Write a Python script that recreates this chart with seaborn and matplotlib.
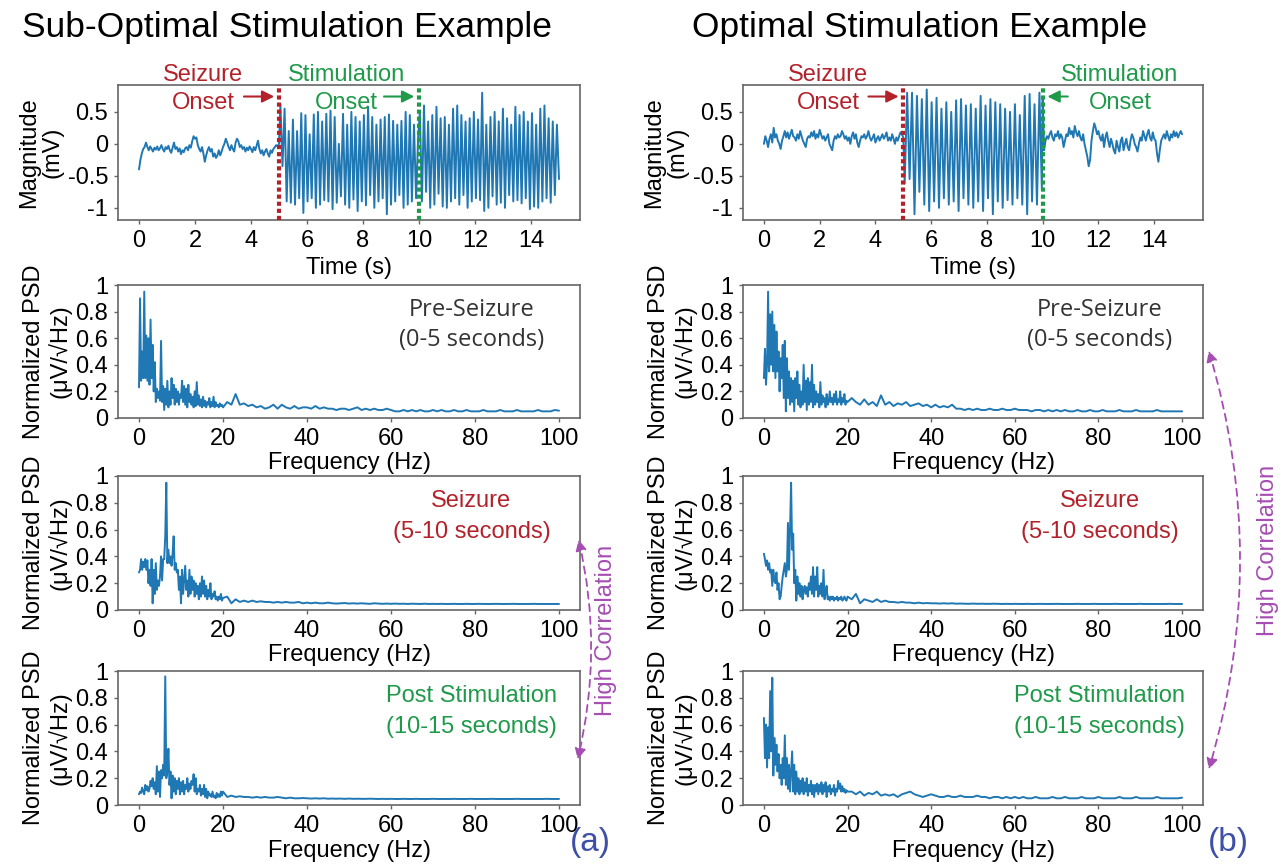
import numpy as np
import pandas as pd
import matplotlib
matplotlib.use("Agg")
import matplotlib.pyplot as plt
from matplotlib.patches import FancyArrowPatch
import seaborn as sns

# ---------------- data ----------------
# time-domain signals, mV
sub_base = [-0.40, -0.25, -0.15, -0.08, -0.05, 0.02, -0.05, -0.10, -0.04, -0.08, -0.12, -0.06, -0.09, -0.04,
            -0.10, -0.07, -0.02, -0.08, -0.12, -0.05, -0.08, -0.03, -0.10, -0.14, -0.06, 0.02, -0.08, -0.05,
            -0.12, -0.07, -0.16, -0.10, -0.13, -0.07, -0.05, -0.10, -0.02, -0.06, 0.04, 0.12, 0.08, 0.10,
            -0.02, -0.08, -0.12, -0.05, -0.15, -0.28, -0.18, -0.10, -0.05, -0.12, -0.08, -0.20, -0.15, -0.22,
            -0.18, -0.10, -0.18, -0.12, -0.05, 0.00, 0.08, 0.02, -0.05, -0.10, -0.02, -0.08, -0.12, 0.02,
            0.08, 0.04, -0.05, -0.02, -0.08, -0.05, -0.12, -0.06, -0.10, -0.04, -0.08, -0.13, -0.05, -0.10,
            -0.03, 0.05, -0.08, -0.15, -0.10, -0.18, -0.12, -0.08, -0.15, -0.20, -0.10, -0.14, -0.08, -0.05,
            -0.02, -0.04, 0.00]
sub_seiz = [0.62, -0.35, 0.55, -0.90, 0.20, -0.92, 0.38, -0.95, 0.20, -0.85, 0.48, -1.08, 0.45, -0.90, 0.15,
            -0.85, 0.46, -1.00, 0.50, -0.95, 0.35, -0.88, 0.47, -0.90, 0.52, -1.02, 0.42, -0.92, 0.00, -0.82,
            0.47, -0.95, 0.30, -1.00, 0.50, -0.87, 0.42, -1.05, 0.35, -0.90, 0.45, -0.96, 0.58, -0.80, 0.42,
            -1.00, 0.30, -0.90, 0.38, -0.85, 0.42, -1.10, 0.46, -0.95, 0.36, -0.90, 0.30, -0.80, 0.36, -1.00,
            0.50, -0.95, 0.45, -0.90, 0.30, -0.85, 0.10]
sub_post = [0.50, -0.90, 0.60, -0.75, 0.35, -1.00, 0.45, -0.95, 0.58, -0.78, 0.40, -0.98, 0.42, -1.00, 0.30,
            -0.90, 0.55, -0.85, 0.60, -0.95, 0.45, -0.80, 0.35, -1.00, 0.40, -0.90, 0.50, -0.85, 0.38, -0.88,
            0.80, -1.05, 0.30, -1.00, 0.42, -0.82, 0.50, -0.95, 0.35, -0.92, 0.55, -1.00, 0.40, -0.80, 0.30,
            -0.90, 0.58, -0.88, 0.45, -0.93, 0.50, -0.85, 0.35, -1.02, 0.48, -0.98, 0.30, -1.00, 0.55, -0.90,
            0.60, -0.85, 0.40, -0.92, 0.35, -0.80, 0.30, -0.55]
opt_base = [0.00, 0.12, 0.05, -0.05, 0.08, 0.15, 0.02, 0.25, 0.10, 0.15, 0.05, 0.00, -0.08, 0.05, 0.12, 0.20,
            0.10, 0.18, 0.08, 0.15, 0.22, 0.12, 0.10, 0.05, 0.15, 0.08, 0.20, 0.12, 0.05, 0.00, -0.05, 0.08,
            0.12, 0.10, 0.18, 0.12, 0.20, 0.08, 0.15, 0.10, 0.22, 0.15, 0.08, 0.12, 0.05, 0.10, 0.15, 0.00,
            -0.05, -0.10, 0.05, 0.12, 0.08, 0.15, 0.10, 0.12, 0.20, 0.15, 0.08, 0.12, 0.05, 0.10, 0.00, 0.12,
            0.18, 0.08, 0.15, 0.02, -0.05, 0.05, 0.12, 0.10, 0.15, 0.08, 0.12, 0.20, 0.10, 0.05, 0.10, 0.15,
            0.02, 0.08, 0.12, 0.05, 0.10, 0.15, 0.08, 0.12, 0.18, 0.05, 0.10, 0.05, 0.15, 0.08, 0.00, 0.10,
            0.05, 0.12, 0.18, 0.15, 0.10]
opt_seiz = [-0.62, 0.80, -0.55, 0.80, -1.10, 0.75, -0.75, 0.70, -0.95, 0.85, -1.05, 0.65, -0.90, 0.72, -1.00,
            0.55, -0.85, 0.65, -0.95, 0.50, -0.90, 0.68, -1.05, 0.70, -0.85, 0.60, -0.95, 0.62, -1.00, 0.55,
            -0.90, 0.75, -1.05, 0.60, -0.85, 0.70, -1.10, 0.65, -0.90, 0.62, -1.00, 0.55, -0.88, 0.50, -0.95,
            0.62, -0.85, 0.45, -0.95, 0.75, -1.10, 0.78, -0.90, 0.62, -0.95, 0.80, -0.70]
opt_post = [0.70, -0.10, 0.05, 0.12, 0.08, 0.15, 0.20, 0.10, 0.05, 0.15, 0.12, 0.20, 0.08, 0.15, 0.10, -0.05,
            0.05, 0.15, 0.12, 0.25, 0.15, 0.20, 0.10, 0.28, 0.18, 0.12, 0.20, 0.10, 0.05, 0.15, 0.00, -0.10,
            -0.20, -0.35, -0.25, 0.05, 0.20, 0.32, 0.25, 0.15, 0.20, 0.10, 0.05, 0.15, -0.05, 0.10, 0.18, 0.05,
            -0.05, 0.08, 0.00, -0.10, -0.15, 0.05, -0.05, -0.12, 0.05, 0.10, -0.10, 0.00, 0.08, -0.05, -0.10,
            0.05, 0.15, 0.10, 0.00, -0.05, -0.12, 0.00, 0.10, 0.05, 0.20, 0.12, 0.05, 0.15, 0.22, 0.10, 0.05,
            0.18, 0.08, 0.05, -0.15, -0.28, -0.10, 0.05, 0.10, 0.15, 0.08, 0.20, 0.12, 0.05, 0.15, 0.10, 0.20,
            0.12, 0.18, 0.10, 0.15, 0.20, 0.15]

# normalized PSD: "low" = 0-20 Hz, "tail" = 21-100 Hz
sub_pre_low = [0.23, 0.90, 0.28, 0.50, 0.30, 0.95, 0.30, 0.62, 0.28, 0.60, 0.25, 0.74, 0.30, 0.55, 0.20, 0.42,
               0.12, 0.22, 0.15, 0.20, 0.13, 0.58, 0.12, 0.24, 0.06, 0.22, 0.10, 0.28, 0.08, 0.20, 0.10, 0.30,
               0.15, 0.25, 0.10, 0.22, 0.12, 0.20, 0.10, 0.18, 0.15, 0.28, 0.12, 0.24, 0.10, 0.22, 0.08, 0.25,
               0.12, 0.18, 0.10, 0.16, 0.08, 0.20, 0.09, 0.27, 0.10, 0.17, 0.09, 0.14, 0.08, 0.16, 0.09, 0.13,
               0.08, 0.12, 0.10, 0.15, 0.08, 0.12, 0.09, 0.16, 0.08, 0.12, 0.09, 0.10, 0.08, 0.11, 0.09, 0.10, 0.08]
sub_pre_tail = [0.12, 0.10, 0.18, 0.10, 0.11, 0.09, 0.10, 0.08, 0.09, 0.07, 0.08, 0.10, 0.07, 0.10, 0.08, 0.07,
                0.09, 0.07, 0.08, 0.08, 0.07, 0.09, 0.07, 0.08, 0.07, 0.07, 0.06, 0.07, 0.07, 0.06, 0.07, 0.08,
                0.06, 0.07, 0.06, 0.07, 0.06, 0.06, 0.07, 0.06, 0.05, 0.05, 0.06, 0.05, 0.06, 0.05, 0.06, 0.05,
                0.05, 0.06, 0.05, 0.06, 0.05, 0.05, 0.06, 0.05, 0.05, 0.06, 0.05, 0.05, 0.05, 0.06, 0.05, 0.05,
                0.05, 0.06, 0.05, 0.05, 0.05, 0.06, 0.05, 0.05, 0.05, 0.05, 0.06, 0.05, 0.05, 0.05, 0.06, 0.055]
sub_seiz_low = [0.28, 0.30, 0.38, 0.30, 0.36, 0.32, 0.38, 0.30, 0.37, 0.20, 0.30, 0.18, 0.38, 0.05, 0.30, 0.12,
                0.35, 0.15, 0.22, 0.18, 0.25, 0.40, 0.22, 0.38, 0.38, 0.55, 0.95, 0.35, 0.45, 0.35, 0.40, 0.33,
                0.42, 0.55, 0.30, 0.35, 0.28, 0.30, 0.15, 0.25, 0.05, 0.30, 0.12, 0.22, 0.33, 0.15, 0.22, 0.10,
                0.30, 0.12, 0.25, 0.15, 0.22, 0.10, 0.20, 0.12, 0.18, 0.08, 0.20, 0.10, 0.25, 0.12, 0.22, 0.10,
                0.18, 0.08, 0.15, 0.10, 0.20, 0.08, 0.12, 0.10, 0.14, 0.08, 0.10, 0.07, 0.10, 0.08, 0.12, 0.07, 0.09]
sub_seiz_tail = [0.10, 0.05, 0.08, 0.06, 0.07, 0.06, 0.07, 0.06, 0.065, 0.06, 0.06, 0.055, 0.06, 0.055, 0.06,
                 0.055, 0.055, 0.06, 0.05, 0.055, 0.05, 0.055, 0.05, 0.05, 0.055, 0.05, 0.048, 0.05, 0.052, 0.048,
                 0.05, 0.048, 0.05, 0.048, 0.046, 0.05, 0.048, 0.046, 0.048, 0.046, 0.048, 0.046, 0.047, 0.045,
                 0.047, 0.046, 0.045, 0.047, 0.045, 0.046, 0.045, 0.046, 0.045, 0.045, 0.046, 0.045, 0.045, 0.046,
                 0.045, 0.045, 0.046, 0.045, 0.045, 0.045, 0.046, 0.045, 0.045, 0.045, 0.046, 0.045, 0.045, 0.045,
                 0.045, 0.046, 0.045, 0.045, 0.045, 0.045, 0.045, 0.045]
sub_post_low = [0.08, 0.10, 0.09, 0.13, 0.10, 0.08, 0.15, 0.11, 0.14, 0.10, 0.12, 0.18, 0.14, 0.20, 0.12, 0.17,
                0.08, 0.29, 0.10, 0.25, 0.06, 0.26, 0.20, 0.30, 0.22, 0.96, 0.20, 0.25, 0.42, 0.15, 0.25, 0.05,
                0.22, 0.10, 0.20, 0.08, 0.18, 0.12, 0.20, 0.08, 0.17, 0.10, 0.18, 0.08, 0.15, 0.12, 0.20, 0.10,
                0.16, 0.12, 0.18, 0.15, 0.23, 0.10, 0.20, 0.08, 0.12, 0.10, 0.15, 0.07, 0.12, 0.08, 0.15, 0.06,
                0.12, 0.05, 0.10, 0.07, 0.08, 0.06, 0.10, 0.06, 0.07, 0.05, 0.09, 0.06, 0.08, 0.06, 0.10, 0.07, 0.10]
sub_post_tail = [0.06, 0.07, 0.06, 0.065, 0.06, 0.06, 0.055, 0.06, 0.055, 0.06, 0.055, 0.055, 0.06, 0.055, 0.05,
                 0.055, 0.05, 0.05, 0.052, 0.05, 0.048, 0.05, 0.048, 0.05, 0.047, 0.048, 0.047, 0.048, 0.046, 0.048,
                 0.046, 0.047, 0.046, 0.046, 0.047, 0.046, 0.045, 0.046, 0.045, 0.046, 0.045, 0.045, 0.046, 0.045,
                 0.045, 0.046, 0.045, 0.045, 0.045, 0.046, 0.045, 0.045, 0.045, 0.045, 0.046, 0.045, 0.045, 0.045,
                 0.046, 0.045, 0.045, 0.045, 0.045, 0.046, 0.045, 0.045, 0.045, 0.045, 0.045, 0.046, 0.045, 0.045,
                 0.045, 0.045, 0.045, 0.045, 0.046, 0.045, 0.045, 0.045]
opt_pre_low = [0.30, 0.52, 0.25, 0.40, 0.95, 0.35, 0.78, 0.40, 0.80, 0.35, 0.70, 0.30, 0.65, 0.35, 0.50, 0.20,
               0.45, 0.30, 0.55, 0.15, 0.58, 0.05, 0.45, 0.15, 0.35, 0.10, 0.30, 0.12, 0.28, 0.05, 0.30, 0.15,
               0.35, 0.10, 0.25, 0.08, 0.20, 0.10, 0.40, 0.12, 0.28, 0.06, 0.30, 0.10, 0.27, 0.12, 0.40, 0.08,
               0.25, 0.10, 0.20, 0.12, 0.18, 0.08, 0.27, 0.10, 0.17, 0.12, 0.15, 0.08, 0.18, 0.10, 0.12, 0.20,
               0.12, 0.15, 0.10, 0.18, 0.12, 0.20, 0.10, 0.14, 0.12, 0.20, 0.10, 0.15, 0.12, 0.18, 0.10, 0.13, 0.12]
opt_pre_tail = [0.15, 0.12, 0.10, 0.14, 0.10, 0.12, 0.09, 0.17, 0.10, 0.12, 0.09, 0.11, 0.10, 0.12, 0.09, 0.10,
                0.11, 0.09, 0.10, 0.08, 0.10, 0.08, 0.09, 0.08, 0.10, 0.07, 0.07, 0.06, 0.07, 0.06, 0.07, 0.06,
                0.06, 0.07, 0.06, 0.06, 0.07, 0.06, 0.06, 0.07, 0.06, 0.06, 0.06, 0.05, 0.06, 0.06, 0.05, 0.06,
                0.05, 0.06, 0.05, 0.06, 0.05, 0.05, 0.06, 0.05, 0.05, 0.06, 0.05, 0.05, 0.06, 0.05, 0.05, 0.05,
                0.06, 0.05, 0.05, 0.05, 0.06, 0.05, 0.05, 0.05, 0.05, 0.06, 0.05, 0.05, 0.05, 0.05, 0.05, 0.05]
opt_seiz_low = [0.42, 0.38, 0.33, 0.37, 0.30, 0.35, 0.28, 0.30, 0.18, 0.30, 0.22, 0.20, 0.28, 0.15, 0.20, 0.08,
                0.10, 0.18, 0.25, 0.30, 0.35, 0.25, 0.30, 0.65, 0.30, 0.60, 0.95, 0.45, 0.57, 0.20, 0.30, 0.07,
                0.25, 0.12, 0.20, 0.10, 0.18, 0.08, 0.15, 0.18, 0.12, 0.17, 0.10, 0.20, 0.15, 0.25, 0.12, 0.32,
                0.10, 0.25, 0.15, 0.32, 0.10, 0.18, 0.12, 0.20, 0.10, 0.30, 0.08, 0.12, 0.18, 0.08, 0.10, 0.07,
                0.10, 0.08, 0.10, 0.07, 0.09, 0.08, 0.10, 0.07, 0.09, 0.08, 0.10, 0.07, 0.08, 0.10, 0.08, 0.07, 0.10]
opt_seiz_tail = [0.08, 0.12, 0.05, 0.08, 0.07, 0.06, 0.08, 0.06, 0.07, 0.06, 0.06, 0.055, 0.06, 0.055, 0.055,
                 0.05, 0.055, 0.05, 0.052, 0.05, 0.05, 0.048, 0.05, 0.048, 0.05, 0.047, 0.048, 0.047, 0.046, 0.048,
                 0.046, 0.047, 0.046, 0.046, 0.047, 0.046, 0.045, 0.046, 0.045, 0.046, 0.045, 0.045, 0.046, 0.045,
                 0.045, 0.046, 0.045, 0.045, 0.045, 0.046, 0.045, 0.045, 0.045, 0.045, 0.046, 0.045, 0.045, 0.045,
                 0.046, 0.045, 0.045, 0.045, 0.045, 0.046, 0.045, 0.045, 0.045, 0.045, 0.045, 0.046, 0.045, 0.045,
                 0.045, 0.045, 0.045, 0.045, 0.046, 0.045, 0.045, 0.045]
opt_post_low = [0.65, 0.35, 0.60, 0.28, 0.58, 0.35, 0.85, 0.40, 0.95, 0.22, 0.50, 0.30, 0.45, 0.25, 0.38, 0.20,
                0.30, 0.15, 0.35, 0.20, 0.52, 0.15, 0.35, 0.12, 0.30, 0.10, 0.25, 0.40, 0.10, 0.30, 0.08, 0.25,
                0.10, 0.20, 0.08, 0.18, 0.10, 0.20, 0.08, 0.17, 0.10, 0.20, 0.07, 0.15, 0.10, 0.18, 0.08, 0.15,
                0.06, 0.15, 0.10, 0.16, 0.08, 0.15, 0.10, 0.17, 0.08, 0.15, 0.10, 0.17, 0.06, 0.14, 0.10, 0.15,
                0.08, 0.12, 0.10, 0.15, 0.07, 0.12, 0.10, 0.18, 0.12, 0.16, 0.10, 0.14, 0.10, 0.12, 0.09, 0.11, 0.10]
opt_post_tail = [0.10, 0.08, 0.10, 0.07, 0.09, 0.08, 0.10, 0.07, 0.08, 0.07, 0.08, 0.06, 0.08, 0.09, 0.10, 0.08,
                 0.07, 0.06, 0.07, 0.08, 0.07, 0.06, 0.06, 0.07, 0.06, 0.06, 0.07, 0.06, 0.06, 0.06, 0.07, 0.06,
                 0.06, 0.05, 0.06, 0.06, 0.05, 0.06, 0.05, 0.06, 0.05, 0.06, 0.05, 0.05, 0.06, 0.05, 0.05, 0.05,
                 0.06, 0.05, 0.05, 0.06, 0.05, 0.05, 0.05, 0.06, 0.05, 0.05, 0.05, 0.06, 0.05, 0.05, 0.05, 0.05,
                 0.06, 0.05, 0.05, 0.05, 0.06, 0.05, 0.05, 0.05, 0.05, 0.06, 0.05, 0.05, 0.05, 0.05, 0.05, 0.055]

time_ticks = [0, 2, 4, 6, 8, 10, 12, 14]
mag_ticks = [-1, -0.5, 0, 0.5]
freq_ticks = [0, 20, 40, 60, 80, 100]
psd_ticks = [0, 0.2, 0.4, 0.6, 0.8, 1]
titles = ["Sub-Optimal Stimulation Example", "Optimal Stimulation Example"]
psd_labels = [("Pre-Seizure", "(0-5 seconds)"), ("Seizure", "(5-10 seconds)"),
              ("Post Stimulation", "(10-15 seconds)")]

# ---------------- style ----------------
sns.set_theme(style="ticks")
plt.rcParams["font.family"] = ["Liberation Sans", "DejaVu Sans"]
plt.rcParams["axes.linewidth"] = 1.2
plt.rcParams["text.color"] = "black"
plt.rcParams["axes.labelcolor"] = "black"
plt.rcParams["xtick.labelcolor"] = "black"
plt.rcParams["ytick.labelcolor"] = "black"

BLUE = "#1f77b4"
RED = "#b3222b"
GREEN = "#1f9a4a"
PURPLE = "#a64db3"
LBLUE = "#3d4fa6"
FS = 17

W, H = 1288, 865
fig = plt.figure(figsize=(W / 100, H / 100), dpi=100)


def fx(px):
    return px / W


def fy(py):
    return 1 - py / H


col_x = [(118, 580), (743, 1203)]
row_y = [(85, 220), (285, 418), (476, 610), (671, 805)]


def make_ax(c, r):
    x0, x1 = col_x[c]
    y0, y1 = row_y[r]
    ax = fig.add_axes([fx(x0), fy(y1), fx(x1 - x0), (y1 - y0) / H])
    for s in ax.spines.values():
        s.set_color("#666666")
        s.set_linewidth(1.2)
    ax.tick_params(labelsize=FS, length=3, width=1, color="#666666", labelcolor="black", pad=4)
    return ax


def fmt(v):
    return "%g" % v


def time_df(base, seiz, post, seiz_span, post_span):
    t = np.concatenate([np.linspace(0, 5, len(base)),
                        np.linspace(seiz_span[0], seiz_span[1], len(seiz)),
                        np.linspace(post_span[0], post_span[1], len(post))])
    v = np.concatenate([base, seiz, post])
    return pd.DataFrame({"t": t, "v": v})


def psd_df(low, tail):
    f = np.concatenate([np.linspace(0, 20, len(low)), np.linspace(21, 100, len(tail))])
    return pd.DataFrame({"f": f, "p": np.concatenate([low, tail])})


signals = [time_df(sub_base, sub_seiz, sub_post, (5.05, 9.97), (10.03, 15.0)),
           time_df(opt_base, opt_seiz, opt_post, (5.05, 9.97), (10.0, 15.0))]
psds = [[psd_df(sub_pre_low, sub_pre_tail), psd_df(sub_seiz_low, sub_seiz_tail), psd_df(sub_post_low, sub_post_tail)],
        [psd_df(opt_pre_low, opt_pre_tail), psd_df(opt_seiz_low, opt_seiz_tail), psd_df(opt_post_low, opt_post_tail)]]

label_colors = ["#333333", RED, GREEN]
label_fonts = [["Open Sans", "DejaVu Sans"], ["Liberation Sans", "DejaVu Sans"], ["Liberation Sans", "DejaVu Sans"]]

for c in range(2):
    # ---- time domain ----
    ax = make_ax(c, 0)
    sns.lineplot(data=signals[c], x="t", y="v", ax=ax, color=BLUE, lw=1.4,
                 estimator=None, sort=False)
    ax.set_xlim(-0.75, 15.75)
    ax.set_ylim(-1.19, 0.92)
    ax.set_xticks(time_ticks)
    ax.set_xticklabels([fmt(v) for v in time_ticks])
    ax.set_yticks(mag_ticks)
    ax.set_yticklabels([fmt(v) for v in mag_ticks])
    ax.set_xlabel("Time (s)", fontsize=FS, labelpad=4)
    ax.set_ylabel("Magnitude\n(mV)", fontsize=FS, labelpad=3, linespacing=1.1)
    ax.axvline(5, color=RED, lw=3, ls=(0, (1, 0.7)), zorder=5)
    ax.axvline(10, color=GREEN, lw=3, ls=(0, (1, 0.7)), zorder=5)
    kw = dict(fontsize=FS, ha="center", va="center", clip_on=False)
    ax.text(2.3, 1.08, "Seizure", color=RED, **kw)
    ax.text(2.3, 0.64, "Onset", color=RED, **kw)
    ax.annotate("", xy=(4.93, 0.74), xytext=(3.65, 0.74),
                arrowprops=dict(arrowstyle="-|>", color=RED, lw=1.5, mutation_scale=18))
    if c == 0:
        ax.text(7.42, 1.08, "Stimulation", color=GREEN, **kw)
        ax.text(7.4, 0.64, "Onset", color=GREEN, **kw)
        ax.annotate("", xy=(9.93, 0.74), xytext=(8.65, 0.74),
                    arrowprops=dict(arrowstyle="-|>", color=GREEN, lw=1.5, mutation_scale=18))
    else:
        ax.text(12.75, 1.08, "Stimulation", color=GREEN, **kw)
        ax.text(12.78, 0.64, "Onset", color=GREEN, **kw)
        ax.annotate("", xy=(10.07, 0.74), xytext=(11.0, 0.74),
                    arrowprops=dict(arrowstyle="-|>", color=GREEN, lw=1.5, mutation_scale=18))

    # ---- PSDs ----
    for r in range(3):
        ax = make_ax(c, r + 1)
        sns.lineplot(data=psds[c][r], x="f", y="p", ax=ax, color=BLUE, lw=1.4,
                     estimator=None, sort=False)
        ax.set_xlim(-5, 105)
        ax.set_ylim(0, 1)
        ax.set_xticks(freq_ticks)
        ax.set_xticklabels([fmt(v) for v in freq_ticks])
        ax.set_yticks(psd_ticks)
        ax.set_yticklabels([fmt(v) for v in psd_ticks])
        ax.set_xlabel("Frequency (Hz)", fontsize=FS, labelpad=2)
        ax.set_ylabel("Normalized PSD\n(\u03bcV/\u221aHz)", fontsize=FS, labelpad=3, linespacing=1.1)
        l1, l2 = psd_labels[r]
        xt = 0.765 if c == 0 else 0.775
        ax.text(xt, 0.81, l1, transform=ax.transAxes, ha="center", va="center",
                fontsize=FS, color=label_colors[r], family=label_fonts[r])
        ax.text(xt, 0.585, l2, transform=ax.transAxes, ha="center", va="center",
                fontsize=FS, color=label_colors[r], family=label_fonts[r])

# titles
fig.text(fx(287), fy(27), titles[0], fontsize=25.5, ha="center", va="center")
fig.text(fx(920), fy(27), titles[1], fontsize=25.5, ha="center", va="center")

# high correlation arcs
for (x1, y1, x2, y2, rad, tx, ty) in [(578, 537, 577, 762, -0.12, 606, 630),
                                       (1208, 348, 1208, 772, -0.15, 1268, 550)]:
    arr = FancyArrowPatch((fx(x1), fy(y1)), (fx(x2), fy(y2)), transform=fig.transFigure,
                          connectionstyle="arc3,rad=%g" % rad, arrowstyle="<|-|>",
                          mutation_scale=16, color=PURPLE, lw=1.3, ls=(0, (4, 3)))
    fig.patches.append(arr)
    fig.text(fx(tx), fy(ty), "High Correlation", rotation=90, fontsize=FS, color=PURPLE,
             ha="center", va="center")

fig.text(fx(590), fy(843), "(a)", fontsize=24, color=LBLUE, ha="center", va="center")
fig.text(fx(1228), fy(843), "(b)", fontsize=24, color=LBLUE, ha="center", va="center")

fig.savefig("out.png", dpi=100)
